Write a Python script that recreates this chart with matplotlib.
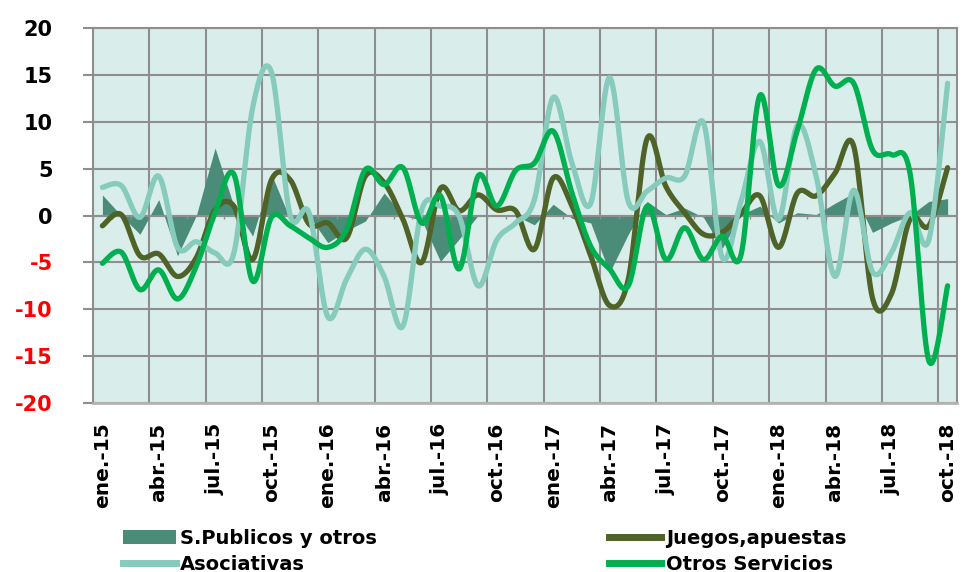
import matplotlib
matplotlib.use("Agg")
import matplotlib.pyplot as plt
from matplotlib.patches import Patch
from matplotlib.lines import Line2D
import numpy as np

# months ene.-15 .. oct.-18
month_names = ['ene.', 'feb.', 'mar.', 'abr.', 'may.', 'jun.',
               'jul.', 'ago.', 'sep.', 'oct.', 'nov.', 'dic.']
years = ['15', '16', '17', '18']
months = [m + '-' + y for y in years for m in month_names][:46]

s_publicos = [2.2, 0.0, -2.0, 1.7, -4.3, 0.0, 7.2, 1.0, -2.2, 4.4, -0.4, 0.0,
              -2.9, -1.6, -0.6, 2.4, 0.0, -0.5, -4.9, -2.5, 0.0, 0.1, 0.0, -1.0,
              1.2, -0.3, -0.8, -6.1, -2.0, 1.5, 0.1, 0.8, -0.2, -3.5, 0.1, 1.0,
              -0.8, 0.3, 0.1, 1.3, 2.4, -1.8, -0.8, 0.0, 1.5, 1.8]
juegos = [-1.1, 0.1, -4.3, -4.1, -6.5, -4.5, 0.6, 1.0, -4.7, 3.8, 3.8, -0.9,
          -0.8, -2.4, 4.2, 3.5, -0.4, -5.0, 2.9, 0.5, 2.2, 0.6, 0.5, -3.6,
          4.0, 1.0, -4.3, -9.6, -6.8, 8.2, 3.1, 0.3, -2.0, -1.8, 0.2, 2.1,
          -3.4, 2.4, 2.1, 4.5, 7.4, -8.8, -8.4, -0.4, -1.1, 5.1]
asociativas = [3.0, 3.2, -0.2, 4.2, -3.4, -2.8, -4.0, -4.0, 11.5, 15.3, 0.0, 0.3,
               -10.8, -6.8, -3.6, -6.5, -11.8, 0.6, 1.0, -0.1, -7.5, -2.6, -0.8, 1.7,
               12.6, 5.6, 1.3, 14.7, 1.5, 2.6, 4.0, 4.2, 9.9, -4.5, 1.5, 7.9,
               -0.4, 9.6, 4.2, -6.5, 2.7, -6.0, -4.0, 0.3, -2.6, 14.1]
otros = [-5.1, -3.9, -7.9, -5.8, -8.9, -5.4, 0.3, 4.4, -7.0, -0.2, -1.1, -2.4,
         -3.4, -1.5, 4.9, 3.3, 5.1, -0.8, 2.1, -5.7, 4.2, 1.0, 4.8, 5.6,
         9.0, 2.4, -3.3, -5.7, -7.5, 1.0, -4.7, -1.3, -4.7, -2.2, -4.2, 12.8,
         3.2, 9.1, 15.6, 13.8, 14.1, 7.0, 6.5, 4.5, -15.5, -7.5]

c_area = '#4a8c78'
c_juegos = '#4f6228'
c_asoc = '#86cbbb'
c_otros = '#00b050'
c_grid = '#8e8e8e'


def smooth(y, n=20):
    # excel-like smoothed line (bezier through every point)
    y = np.asarray(y, dtype=float)
    x = np.arange(len(y), dtype=float)
    P = np.column_stack([x, y])
    out = []
    t = np.linspace(0, 1, n)[:, None]
    for i in range(len(P) - 1):
        p_prev = P[i - 1] if i > 0 else P[i]
        p_next = P[i + 2] if i + 2 < len(P) else P[i + 1]
        c1 = P[i] + (P[i + 1] - p_prev) / 6
        c2 = P[i + 1] - (p_next - P[i]) / 6
        seg = ((1 - t) ** 3 * P[i] + 3 * (1 - t) ** 2 * t * c1
               + 3 * (1 - t) * t ** 2 * c2 + t ** 3 * P[i + 1])
        out.append(seg if i == 0 else seg[1:])
    out = np.vstack(out)
    return out[:, 0], out[:, 1]


plt.rcParams['font.family'] = 'DejaVu Sans'
plt.rcParams['font.weight'] = 'bold'
plt.rcParams['axes.unicode_minus'] = False

fig = plt.figure(figsize=(9.63, 5.72), dpi=100)
ax = fig.add_axes([93 / 963, 1 - 403 / 572, 864 / 963, 375 / 572])
ax.set_facecolor('#d9eeea')

x = np.arange(len(months))
ax.fill_between(x, s_publicos, 0, color=c_area, linewidth=0, zorder=2)
ax.axhline(0, color=c_grid, lw=1.5, zorder=2.5)
ax.vlines(np.arange(len(months) + 1) - 0.5, -0.35, 0, color=c_grid, lw=1, zorder=2.5)

lw = 3.8
for vals, col in [(juegos, c_juegos), (asociativas, c_asoc), (otros, c_otros)]:
    sx, sy = smooth(vals)
    ax.plot(sx, sy, color=col, lw=lw, solid_capstyle='round',
            solid_joinstyle='round', zorder=3)

ax.set_xlim(-0.5, len(months) - 0.5)
ax.set_ylim(-20, 20)
ax.set_yticks(np.arange(-20, 21, 5))

ax.set_xticks(x[::3])
ax.set_xticklabels(months[::3], rotation=90, fontsize=14.5, fontweight='bold')
ax.set_xticks(np.arange(-0.5, len(months), 3), minor=True)
ax.tick_params(axis='x', which='both', length=0, pad=14)
ax.tick_params(axis='y', length=7, width=1.5, color=c_grid, pad=22, labelsize=15)
ax.grid(True, axis='x', which='minor', color=c_grid, lw=1.5)
ax.grid(True, axis='y', which='major', color=c_grid, lw=1.5)
ax.grid(False, axis='x', which='major')
ax.set_axisbelow(True)

for lbl, v in zip(ax.get_yticklabels(), ax.get_yticks()):
    lbl.set_fontweight('bold')
    lbl.set_color('red' if v < 0 else 'black')

for sp in ax.spines.values():
    sp.set_color(c_grid)
    sp.set_linewidth(1.5)
ax.spines['bottom'].set_color('#b4b4b4')
ax.spines['bottom'].set_linewidth(2)

handles = [Patch(facecolor=c_area, edgecolor='none'),
           Line2D([], [], color=c_asoc, lw=5),
           Line2D([], [], color=c_juegos, lw=5),
           Line2D([], [], color=c_otros, lw=5)]
labels = ['S.Publicos y otros', 'Asociativas', 'Juegos,apuestas', 'Otros Servicios']
fig.legend(handles, labels, ncol=2, loc='upper left',
           bbox_to_anchor=(123 / 963, 1 - 529 / 572), frameon=False,
           prop={'weight': 'bold', 'size': 14}, handlelength=2.7,
           handletextpad=0.25, columnspacing=11.9, labelspacing=0.35,
           borderpad=0, borderaxespad=0)

fig.savefig('out.png', dpi=100)
